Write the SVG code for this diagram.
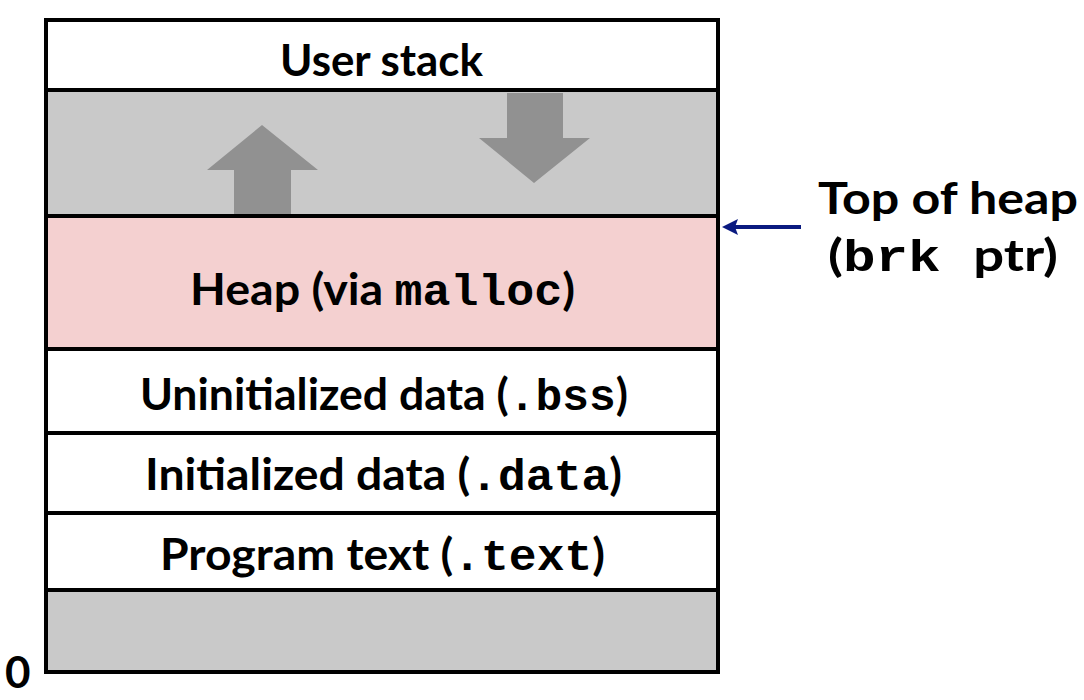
<svg xmlns="http://www.w3.org/2000/svg" width="1084" height="700" viewBox="0 0 1084 700">
<style>
.box{stroke:#000;stroke-width:4}
.t{font-family:Lato,"Open Sans","Liberation Sans",sans-serif;font-weight:bold;font-size:44px;fill:#000}
.m{font-family:"Liberation Mono","Courier New",monospace;font-weight:bold;font-size:44px}
.arr{fill:#919191}
</style>
<rect width="1084" height="700" fill="#fff"/>
<g id="user-stack">
<rect class="box" x="46" y="20" width="672" height="70" fill="#fff"/>
<text class="t" x="280" y="76" textLength="203" lengthAdjust="spacingAndGlyphs">User stack</text>
</g>
<g id="free-gap">
<rect class="box" x="46" y="90" width="672" height="126" fill="#c9c9c9"/>
<polygon class="arr" points="234,216 234,170 207,170 262,125 318,170 291,170 291,216"/>
<polygon class="arr" points="507,93 563,93 563,138 590,138 534,183 479,138 507,138"/>
</g>
<g id="heap">
<rect class="box" x="46" y="216" width="672" height="133" fill="#f4d0d0"/>
<text class="t" x="190" y="305" textLength="385" lengthAdjust="spacingAndGlyphs">Heap (via <tspan class="m">malloc</tspan>)</text>
</g>
<g id="bss">
<rect class="box" x="46" y="349" width="672" height="84" fill="#fff"/>
<text class="t" x="140" y="410" textLength="488" lengthAdjust="spacingAndGlyphs">Uninitialized data (<tspan class="m">.bss</tspan>)</text>
</g>
<g id="data">
<rect class="box" x="46" y="433" width="672" height="80" fill="#fff"/>
<text class="t" x="145" y="490" textLength="477" lengthAdjust="spacingAndGlyphs">Initialized data (<tspan class="m">.data</tspan>)</text>
</g>
<g id="text-seg">
<rect class="box" x="46" y="513" width="672" height="77" fill="#fff"/>
<text class="t" x="160" y="570" textLength="445" lengthAdjust="spacingAndGlyphs">Program text (<tspan class="m">.text</tspan>)</text>
</g>
<g id="bottom">
<rect class="box" x="46" y="590" width="672" height="82" fill="#c9c9c9"/>
</g>
<g id="zero-label">
<text class="t" x="5" y="688" font-size="46">0</text>
</g>
<g id="brk-label">
<text class="t" x="818" y="214" textLength="260" lengthAdjust="spacingAndGlyphs">Top of heap</text>
<text class="t" x="828" y="271" textLength="230" lengthAdjust="spacingAndGlyphs">(<tspan class="m">brk </tspan>ptr)</text>
</g>
<g id="connectors">
<line x1="801" y1="227" x2="734" y2="227" stroke="#0a1a80" stroke-width="4"/>
<polygon points="722,227 738,219 735,227 738,235" fill="#0a1a80"/>
</g>
</svg>
